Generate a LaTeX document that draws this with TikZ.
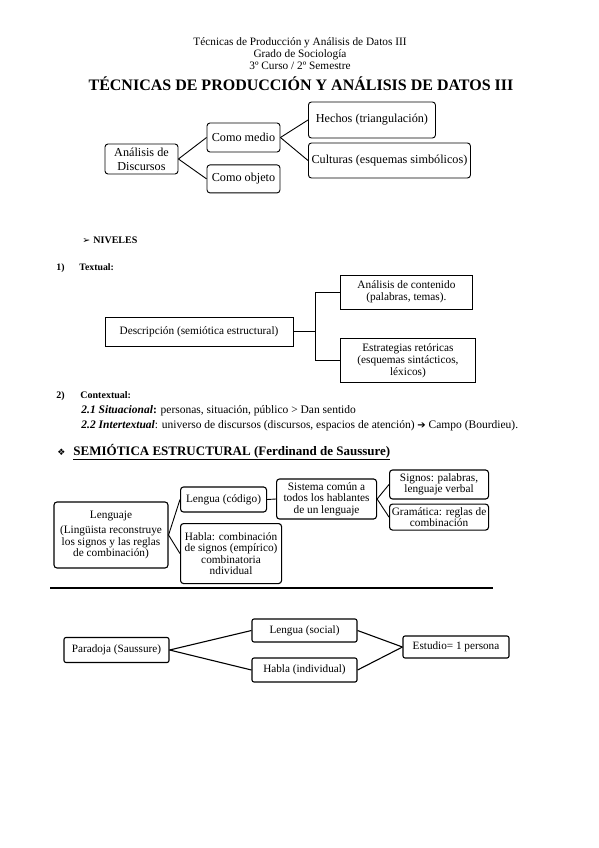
\documentclass[tikz,border=0pt]{standalone}
\usepackage{fontspec}
\setmainfont{Liberation Serif}
\newfontfamily\symfont{DejaVu Sans}
\usetikzlibrary{positioning}

\tikzset{
  rbox/.style={draw, rounded corners=3pt, align=center, inner sep=1pt},
  sbox/.style={draw, align=center, inner sep=1pt},
  link/.style={line width=0.9pt},
  plain/.style={anchor=base west, inner sep=0pt},
}

\begin{document}
\begin{tikzpicture}[x=1pt, y=-1pt, line width=0.9pt]
\useasboundingbox (0,0) rectangle (599,848);

% Cabecera
\node[align=center, font=\fontsize{11.3}{12}\selectfont] (head) at (300,54)
    {Técnicas de Producción y Análisis de Datos III\\Grado de Sociología\\3º Curso / 2º Semestre};
\node[font=\fontsize{16}{18}\bfseries\selectfont] (title) at (301,84)
    {TÉCNICAS DE PRODUCCIÓN Y ANÁLISIS DE DATOS III};

% Analisis de discursos
\node [rbox,
    font=\fontsize{12.2}{14}\selectfont,
    minimum width=73pt,
    minimum height=30pt
] (discursos) at (141.5,159) {Análisis de\\Discursos};

% Como medio / como objeto
\node [rbox,
    font=\fontsize{12.2}{14}\selectfont,
    minimum width=73pt,
    minimum height=29pt
] (medio) at (243.5,137.5) {Como medio};
\node [rbox,
    font=\fontsize{12.2}{14}\selectfont,
    minimum width=73pt,
    minimum height=28pt,
    below=12pt of medio
] (objeto) {Como objeto};

% Hechos / culturas
\node [rbox,
    font=\fontsize{12.2}{14}\selectfont,
    minimum width=127pt,
    minimum height=36pt,
    anchor=west
] (hechos) at (308,120) {Hechos (triangulación)};
\node [rbox,
    font=\fontsize{12.2}{14}\selectfont,
    minimum width=162pt,
    minimum height=35pt,
    anchor=west
] (culturas) at (308,160.5) {Culturas (esquemas simbólicos)};

\draw[link] (discursos.east) -- (medio.west);
\draw[link] (discursos.east) -- (objeto.west);
\draw[link] (medio.east) -- (hechos.west);
\draw[link] (medio.east) -- (culturas.west);

% Niveles
\node[plain, font=\fontsize{9.5}{10}\symfont] (bul1) at (82,243.5) {➢};
\node[plain, font=\fontsize{10}{11}\bfseries\selectfont] (niveles) at (93,243.5) {NIVELES};
\node[plain, font=\fontsize{9.8}{11}\bfseries\selectfont] (num1) at (56,270) {1)};
\node[plain, font=\fontsize{9.8}{11}\bfseries\selectfont] (textual) at (79,270) {Textual:};

% Descripcion
\node [sbox,
    font=\fontsize{11.3}{12}\selectfont,
    minimum width=188pt,
    minimum height=29pt
] (descripcion) at (199,331.5) {Descripción (semiótica estructural)};
\node [sbox,
    font=\fontsize{11.3}{12}\selectfont,
    minimum width=132pt,
    minimum height=34pt,
    anchor=west
] (contenido) at (340,292) {Análisis de contenido\\(palabras, temas).};
\node [sbox,
    font=\fontsize{11.3}{12}\selectfont,
    minimum width=135pt,
    minimum height=44pt,
    anchor=north west
] (retoricas) at (340,338) {Estrategias retóricas\\(esquemas sintácticos,\\léxicos)};

\draw[link] (descripcion.east) -- ++(22,0) coordinate (fork);
\draw[link] (contenido.west) -| (fork);
\draw[link] (fork) |- (retoricas.west);

% Contextual
\node[plain, font=\fontsize{10}{12}\bfseries\selectfont] (num2) at (56,398.5) {2)};
\node[plain, font=\fontsize{10}{12}\bfseries\selectfont] (contextual) at (80,398.5) {Contextual:};
\node[plain, font=\fontsize{11.5}{12}\selectfont] (situacional) at (81,413.5)
    {\textbf{\textit{2.1 Situacional}}\textbf{:} personas, situación, público > Dan sentido};
\node[plain, font=\fontsize{11.5}{12}\selectfont] (intertextual) at (81,428.5)
    {\textbf{\textit{2.2 Intertextual}}: universo de discursos (discursos, espacios de atención) {\symfont\fontsize{10}{10}\selectfont ➔} Campo (Bourdieu).};

% Semiotica estructural
\node[plain, font=\fontsize{9}{10}\symfont] (bul2) at (57,455.5) {❖};
\node[plain, font=\fontsize{13}{14}\bfseries\selectfont] (semiotica) at (73,455.5)
    {\underline{SEMIÓTICA ESTRUCTURAL (Ferdinand de Saussure)}};

\node [rbox,
    line width=1.1pt,
    font=\fontsize{11.3}{11.5}\selectfont,
    minimum width=114pt,
    minimum height=66pt
] (lenguaje) at (111,535) {Lenguaje\\[4pt](Lingüista reconstruye\\los signos y las reglas\\de combinación)};
\node [rbox,
    line width=1.1pt,
    font=\fontsize{11.3}{11.5}\selectfont,
    minimum width=86pt,
    minimum height=25pt,
    anchor=west
] (lengua) at (180,499.5) {Lengua (código)};
\node [rbox,
    line width=1.1pt,
    font=\fontsize{11.3}{11.5}\selectfont,
    minimum width=101pt,
    minimum height=60pt,
    anchor=north west
] (habla) at (180,523) {Habla: combinación\\de signos (empírico)\\combinatoria\\ndividual};
\node [rbox,
    line width=1.1pt,
    font=\fontsize{11.3}{11.5}\selectfont,
    minimum width=100pt,
    minimum height=40pt,
    anchor=west
] (sistema) at (276,499) {Sistema común a\\todos los hablantes\\de un lenguaje};
\node [rbox,
    line width=1.1pt,
    font=\fontsize{11.3}{11.5}\selectfont,
    minimum width=99pt,
    minimum height=29pt,
    anchor=west
] (signos) at (389,484.5) {Signos: palabras,\\lenguaje verbal};
\node [rbox,
    line width=1.1pt,
    font=\fontsize{11.3}{11.5}\selectfont,
    minimum width=99pt,
    minimum height=26pt,
    below=4pt of signos
] (gramatica) {Gramática: reglas de\\combinación};

\draw[link] (lenguaje.east) -- (lengua.west);
\draw[link] (lenguaje.east) -- (habla.west);
\draw[link] (lengua.east) -- (sistema.west);
\draw[link] (sistema.east) -- (signos.west);
\draw[link] (sistema.east) -- (gramatica.west);

% Separador
\coordinate (ruleL) at (50,588);
\coordinate (ruleR) at (493,588);
\draw[line width=1.4pt] (ruleL) -- (ruleR);

% Paradoja
\node [rbox,
    rounded corners=2pt,
    line width=1.1pt,
    font=\fontsize{11.2}{12}\selectfont,
    minimum width=105pt,
    minimum height=25pt
] (paradoja) at (116.5,650) {Paradoja (Saussure)};
\node [rbox,
    rounded corners=2pt,
    line width=1.1pt,
    font=\fontsize{11.2}{12}\selectfont,
    minimum width=105pt,
    minimum height=23pt
] (social) at (304.5,630.5) {Lengua (social)};
\node [rbox,
    rounded corners=2pt,
    line width=1.1pt,
    font=\fontsize{11.2}{12}\selectfont,
    minimum width=105pt,
    minimum height=24pt
] (individual) at (304.5,670) {Habla (individual)};
\node [rbox,
    rounded corners=2pt,
    line width=1.1pt,
    font=\fontsize{11.2}{12}\selectfont,
    minimum width=106pt,
    minimum height=22pt
] (estudio) at (456,647) {Estudio= 1 persona};

\draw[line width=1.1pt] (paradoja.east) -- (social.west);
\draw[line width=1.1pt] (paradoja.east) -- (individual.west);
\draw[line width=1.1pt] (social.east) -- (estudio.west);
\draw[line width=1.1pt] (individual.east) -- (estudio.west);

\end{tikzpicture}
\end{document}
